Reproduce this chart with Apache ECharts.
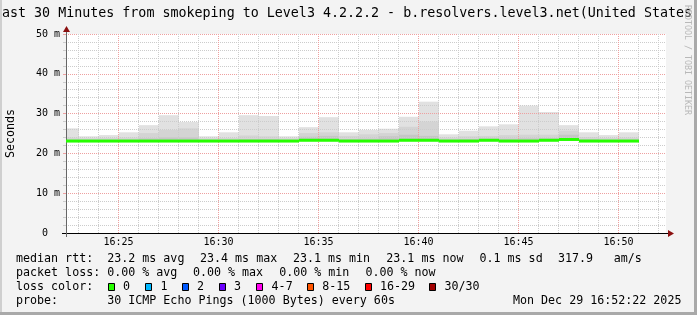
<!DOCTYPE html>
<html><head><meta charset="utf-8">
<script src="https://cdn.jsdelivr.net/npm/echarts@6/dist/echarts.min.js"></script>
<style>html,body{margin:0;padding:0;background:#f3f3f3;}#c{width:697px;height:315px;}</style>
</head><body><div id="c"></div>
<script>
// ---- data ----
const titleText = 'Last 30 Minutes from smokeping to Level3 4.2.2.2 - b.resolvers.level3.net(United States)';
const timeStart = 22.375;   // minutes after 16:00 (16:22:22)
const timeEnd = 52.375;     // 16:52:22
const barEnd = [23,24,25,26,27,28,29,30,31,32,33,34,35,36,37,38,39,40,41,42,43,44,45,46,47,48,49,50,51];
const smokeMax = [26.3,24.3,24.6,25.3,27.1,29.6,27.9,24.3,25.3,29.6,29.4,24.3,26.6,29.1,25.3,25.9,26.2,29.2,33.0,24.8,25.7,26.8,27.3,32.0,30.4,27.1,25.3,24.6,25.3];
const smokeMid = [24.0,23.8,23.9,24.0,25.1,25.9,26.3,23.8,23.9,24.5,24.3,23.8,25.1,25.3,24.4,24.8,25.1,26.7,28.0,24.0,24.3,24.4,24.6,24.7,24.7,25.7,24.1,23.9,24.0];
const smokeIn  = [23.5,23.4,23.4,23.5,23.8,24.0,24.0,23.4,23.4,23.6,23.6,23.4,24.2,24.4,23.6,23.7,24.3,24.7,24.4,23.5,23.6,23.7,23.7,23.8,23.8,24.7,23.6,23.4,23.5];
const medianRtt = [23.1,23.1,23.1,23.1,23.1,23.1,23.1,23.1,23.1,23.1,23.1,23.1,23.3,23.3,23.1,23.1,23.1,23.3,23.3,23.1,23.1,23.3,23.1,23.1,23.3,23.5,23.1,23.1,23.1];
const smokeMin = [22.9,22.9,22.9,22.9,22.9,22.9,22.9,22.9,22.9,22.9,22.9,22.9,23.1,23.1,22.9,22.9,22.9,23.1,23.1,22.9,22.9,23.1,22.9,22.9,23.1,23.3,22.9,22.9,22.9];
const xTickMinutes = [25,30,35,40,45,50];
const xTickLabels = ['16:25','16:30','16:35','16:40','16:45','16:50'];
const minorMinutes = [23,24,26,27,28,29,31,32,33,34,36,37,38,39,41,42,43,44,46,47,48,49,51,52];
const yTickValues = [0,10,20,30,40,50];
const yTickLabels = ['0  ','10 m','20 m','30 m','40 m','50 m'];
const legendRows = [
  ['median rtt:','23.2 ms avg','23.4 ms max','23.1 ms min','23.1 ms now','0.1 ms sd','317.9','am/s'],
  ['packet loss:','0.00 % avg','0.00 % max','0.00 % min','0.00 % now'],
  ['loss color:'],
  ['probe:','30 ICMP Echo Pings (1000 Bytes) every 60s','Mon Dec 29 16:52:22 2025']
];
const lossLabels = ['0','1','2','3','4-7','8-15','16-29','30/30'];

// ---- layout / style ----
const MONO = '"DejaVu Sans Mono", monospace';
const legendX = [
  [16,107.2,200,292.9,386.3,479.5,558,613.8],
  [16,107.2,192.9,279.2,365.4],
  [16],
  [16,107.2,513]
];
const legendY = [259,273,287,301];
const lossColors = ['#26ff00','#00b8ff','#0059ff','#6a00ff','#ff00ee','#ff5500','#ff0000','#a10000'];
const lossBoxX = [108.5,145.5,182.5,219.5,256.5,307.5,365.5,429.5];
const lossTextX = [123,160.5,197,234,271.6,322.3,380,444.5];

const smokeData = barEnd.map((t,i)=>[t, smokeMin[i], smokeIn[i], smokeMid[i], smokeMax[i]]);
const medData = barEnd.map((t,i)=>[t, medianRtt[i]]);
const minorData = minorMinutes.map(m=>[m, 0]);

function spanX(params, api, t){
  const cs = params.coordSys;
  let x0 = api.coord([t-1, 0])[0];
  let x1 = api.coord([t, 0])[0];
  x0 = Math.max(Math.round(x0), cs.x);
  x1 = Math.min(Math.round(x1), cs.x + cs.width);
  return [x0, x1];
}

const graphics = [];
graphics.push({type:'text', x:347, y:13.7, style:{text:titleText, font:'13.33px '+MONO, fill:'#000', align:'center', verticalAlign:'middle', textAlign:'center', textVerticalAlign:'middle'}});
graphics.push({type:'text', x:687.5, y:60, rotation:-Math.PI/2, style:{text:'RRDTOOL / TOBI OETIKER', font:'8.3px '+MONO, fill:'#b8b8b8', align:'center', verticalAlign:'middle', textAlign:'center', textVerticalAlign:'middle'}});
graphics.push({type:'text', x:10.5, y:133.5, rotation:Math.PI/2, style:{text:'Seconds', font:'11.67px '+MONO, fill:'#000', align:'center', verticalAlign:'middle', textAlign:'center', textVerticalAlign:'middle'}});
legendRows.forEach((row,r)=>{
  row.forEach((txt,k)=>{
    graphics.push({type:'text', x:legendX[r][k], y:legendY[r], style:{text:txt, font:'11.67px '+MONO, fill:'#000', align:'left', verticalAlign:'middle', textAlign:'left', textVerticalAlign:'middle'}});
  });
});
lossLabels.forEach((lab,k)=>{
  graphics.push({type:'rect', shape:{x:lossBoxX[k], y:283.5, width:6, height:7}, style:{fill:lossColors[k], stroke:'#000', lineWidth:1}});
  graphics.push({type:'text', x:lossTextX[k], y:legendY[2], style:{text:lab, font:'11.67px '+MONO, fill:'#000', align:'left', verticalAlign:'middle', textAlign:'left', textVerticalAlign:'middle'}});
});
// arrows and axis extensions
graphics.push({type:'polygon', z:10, shape:{points:[[66.5,26],[63,32],[70,32]]}, style:{fill:'#8b1010'}});
graphics.push({type:'polygon', z:10, shape:{points:[[674,233.5],[668,230],[668,237]]}, style:{fill:'#8b1010'}});
graphics.push({type:'line', z:10, shape:{x1:62,y1:233.5,x2:66,y2:233.5}, style:{stroke:'#000', lineWidth:1}});
graphics.push({type:'line', z:10, shape:{x1:666,y1:233.5,x2:668,y2:233.5}, style:{stroke:'#000', lineWidth:1}});
graphics.push({type:'line', z:10, shape:{x1:66.5,y1:32,x2:66.5,y2:34}, style:{stroke:'#666', lineWidth:1}});
graphics.push({type:'line', z:10, shape:{x1:66.5,y1:233,x2:66.5,y2:237}, style:{stroke:'#666', lineWidth:1}});
// frame
graphics.push({type:'rect', shape:{x:0,y:0,width:2,height:315}, style:{fill:'#cfcfcf'}});
graphics.push({type:'rect', shape:{x:694,y:0,width:3,height:315}, style:{fill:'#a9a9a9'}});
graphics.push({type:'rect', shape:{x:0,y:312,width:697,height:3}, style:{fill:'#a9a9a9'}});

const option = {
  animation:false,
  backgroundColor:'#f3f3f3',
  grid:{left:66, top:34, width:600, height:199, show:true, backgroundColor:'#ffffff', borderWidth:0},
  xAxis:{
    type:'value', min:timeStart, max:timeEnd, splitNumber:6, z:3,
    axisLine:{show:true, lineStyle:{color:'#000', width:1}},
    axisTick:{show:false},
    axisLabel:{show:true, showMinLabel:false, showMaxLabel:false, margin:4, color:'#000', fontFamily:MONO, fontSize:10,
      formatter:(v)=>{const i = xTickMinutes.indexOf(Math.round(v*1000)/1000); return i>=0 ? xTickLabels[i] : '';}},
    splitLine:{show:true, showMinLine:false, showMaxLine:false, lineStyle:{color:'#eea0a0', type:[1,1], width:1}}
  },
  yAxis:{
    type:'value', min:0, max:50, interval:10, z:3,
    axisLine:{show:true, lineStyle:{color:'#666', width:1}},
    axisTick:{show:true, length:3, lineStyle:{color:'#eea0a0'}},
    axisLabel:{margin:6, color:'#000', fontFamily:MONO, fontSize:10,
      formatter:(v)=>{const i = yTickValues.indexOf(v); return i>=0 ? yTickLabels[i] : '';}},
    minorTick:{show:true, splitNumber:5, length:3, lineStyle:{color:'#cccccc'}},
    splitLine:{show:true, lineStyle:{color:'#eea0a0', type:[1,1], width:1}},
    minorSplitLine:{show:true, lineStyle:{color:'#cccccc', type:[1,1], width:1}}
  },
  graphic:{elements:graphics},
  series:[
    {
      type:'custom', name:'smoke', z:2, data:smokeData, silent:true,
      renderItem:(params, api)=>{
        const t = api.value(0);
        const [x0,x1] = spanX(params, api, t);
        const yv = [1,2,3,4].map(k=>api.coord([t, api.value(k)])[1]);
        const cols = ['#c6c6c6','#d4d4d4','#e1e1e1'];
        const children = [];
        children.push({type:'rect', shape:{x:x0, y:yv[3], width:x1-x0, height:yv[0]-yv[3]}, style:{fill:cols[2]}});
        children.push({type:'rect', shape:{x:x0, y:yv[2], width:x1-x0, height:yv[0]-yv[2]}, style:{fill:cols[1]}});
        children.push({type:'rect', shape:{x:x0, y:yv[1], width:x1-x0, height:yv[0]-yv[1]}, style:{fill:cols[0]}});
        return {type:'group', children};
      }
    },
    {
      type:'custom', name:'minorgrid', z:3, data:minorData, silent:true,
      renderItem:(params, api)=>{
        const p0 = api.coord([api.value(0), 0]);
        const p1 = api.coord([api.value(0), 50]);
        const x = Math.floor(p0[0]) + 0.5;
        return {type:'line', shape:{x1:x, y1:p1[1], x2:x, y2:p0[1]}, style:{stroke:'#cccccc', lineWidth:1, lineDash:[1,1]}};
      }
    },
    {
      type:'custom', name:'median', z:8, data:medData, silent:true,
      renderItem:(params, api)=>{
        const t = api.value(0);
        const [x0,x1] = spanX(params, api, t);
        const y = api.coord([t, api.value(1)])[1];
        return {type:'rect', shape:{x:x0, y:y-1.5, width:x1-x0, height:3}, style:{fill:lossColors[0]}};
      }
    }
  ]
};
const chart = echarts.init(document.getElementById('c'), null, {renderer:'canvas'});
chart.setOption(option);
</script></body></html>
